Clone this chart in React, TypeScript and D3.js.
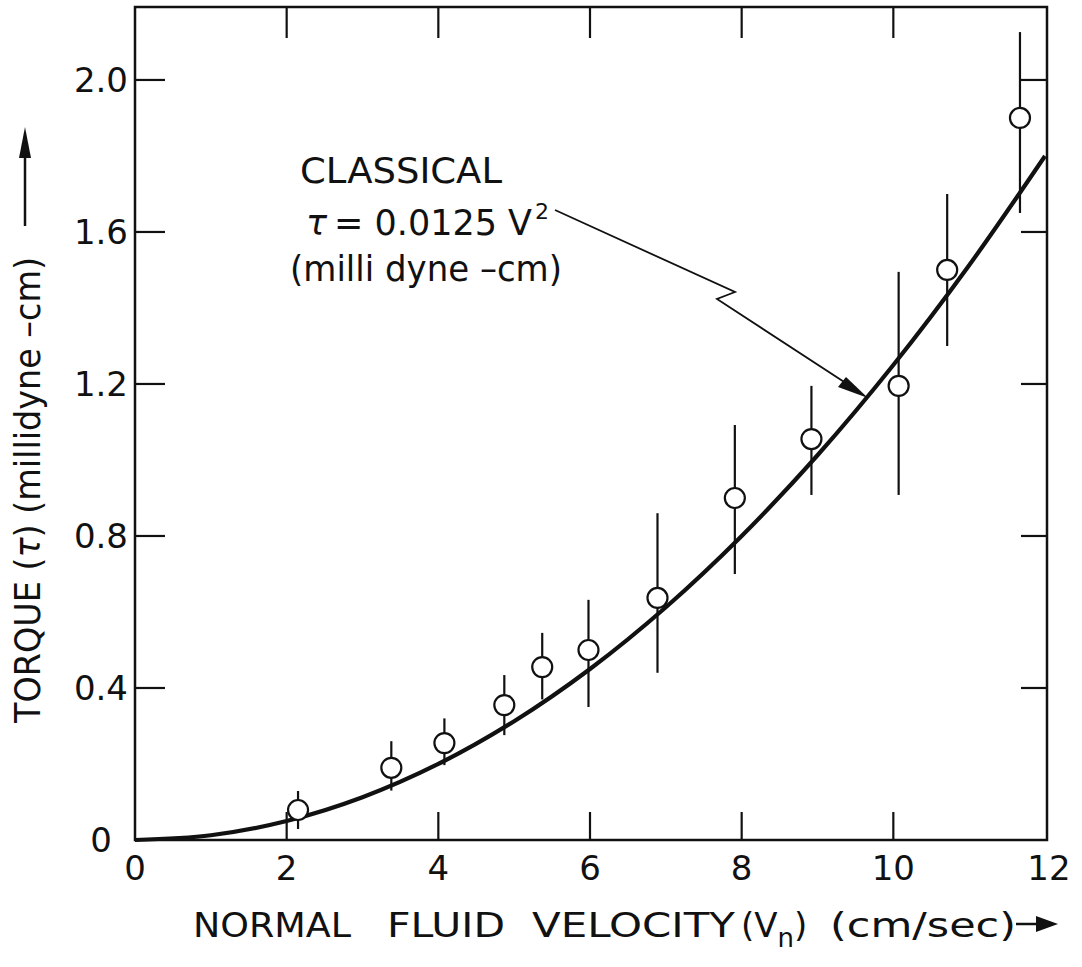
import React from "react";
import * as d3 from "d3";

// Measured data points (normal fluid velocity, torque) with error bar ends
const velocity = [2.15, 3.38, 4.08, 4.87, 5.37, 5.98, 6.89, 7.91, 8.92, 10.07, 10.71, 11.67];
const torque = [0.079, 0.19, 0.255, 0.355, 0.455, 0.5, 0.637, 0.9, 1.055, 1.195, 1.5, 1.9];
const errHigh = [0.129, 0.26, 0.32, 0.434, 0.545, 0.632, 0.86, 1.092, 1.195, 1.495, 1.7, 2.126];
const errLow = [0.029, 0.13, 0.197, 0.276, 0.37, 0.35, 0.44, 0.7, 0.908, 0.908, 1.3, 1.65];

// Classical curve tau = 0.0125 V^2, read at integer velocities
const curveV = [0, 1, 2, 3, 4, 5, 6, 7, 8, 9, 10, 11, 12];
const curveT = [0, 0.0125, 0.05, 0.1125, 0.2, 0.3125, 0.45, 0.6125, 0.8, 1.0125, 1.25, 1.5125, 1.8];

const xTicks = [0, 2, 4, 6, 8, 10, 12];
const xTickLabels = ["0", "2", "4", "6", "8", "10", "12"];
const yTicks = [0, 0.4, 0.8, 1.2, 1.6, 2.0];
const yTickLabels = ["0", "0.4", "0.8", "1.2", "1.6", "2.0"];

const FONT = "'DejaVu Sans', sans-serif";

export default function App() {
  const left = 135, right = 1047, top = 7, bottom = 840;
  const x = d3.scaleLinear().domain([0, 12]).range([135, 1045]);
  const y = d3.scaleLinear().domain([0, 2.192]).range([bottom, top]);
  const tick = 28;

  const line = d3
    .line<number>()
    .x((_, i) => x(curveV[i]))
    .y((d) => y(d))
    .curve(d3.curveCatmullRom);

  return (
    <svg width={1082} height={967} style={{ display: "block", position: "absolute", left: 0, top: 0, background: "#fff" }}>
      <rect x={0} y={0} width={1082} height={967} fill="#fff" />
      {/* frame */}
      <rect x={left} y={top} width={right - left} height={bottom - top} fill="none" stroke="#111" strokeWidth={2.5} />
      {/* ticks */}
      {xTicks.slice(1, -1).map((t) => (
        <g key={"xt" + t}>
          <line x1={x(t)} x2={x(t)} y1={bottom} y2={bottom - tick} stroke="#111" strokeWidth={2.2} />
          <line x1={x(t)} x2={x(t)} y1={top} y2={top + tick + 3} stroke="#111" strokeWidth={2.2} />
        </g>
      ))}
      {yTicks.slice(1).map((t) => (
        <g key={"yt" + t}>
          <line x1={left} x2={left + tick + 2} y1={y(t)} y2={y(t)} stroke="#111" strokeWidth={2.2} />
          <line x1={right} x2={right - tick + 2} y1={y(t)} y2={y(t)} stroke="#111" strokeWidth={2.2} />
        </g>
      ))}
      {/* tick labels */}
      {xTicks.map((t, i) => (
        <text key={"xl" + t} x={x(t) + (t === 12 ? 4 : 0)} y={880} textAnchor="middle" fontFamily={FONT} fontSize={34} fill="#111">
          {xTickLabels[i]}
        </text>
      ))}
      {yTicks.map((t, i) => (
        <text
          key={"yl" + t}
          x={t === 0 ? 112 : 128}
          y={y(t) + 12}
          textAnchor="end"
          fontFamily={FONT}
          fontSize={34}
          fill="#111"
        >
          {yTickLabels[i]}
        </text>
      ))}

      {/* classical curve */}
      <path d={line(curveT) || ""} fill="none" stroke="#111" strokeWidth={4.2} />

      {/* error bars and points */}
      {velocity.map((v, i) => (
        <g key={"p" + i}>
          <line x1={x(v)} x2={x(v)} y1={y(errHigh[i])} y2={y(errLow[i])} stroke="#111" strokeWidth={2.2} />
          <circle cx={x(v)} cy={y(torque[i])} r={10} fill="#fff" stroke="#111" strokeWidth={2.2} />
        </g>
      ))}

      {/* annotation */}
      <text x={300} y={183} fontFamily={FONT} fontSize={36} fill="#111" textLength={202} lengthAdjust="spacingAndGlyphs">
        CLASSICAL
      </text>
      <text x={306} y={235} fontFamily={FONT} fontSize={35} fill="#111">
        <tspan fontStyle="italic">τ</tspan>
        <tspan dx={7}>= 0.0125 V</tspan>
        <tspan dx={3} dy={-16} fontSize={22}>2</tspan>
      </text>
      <text x={290} y={281} fontFamily={FONT} fontSize={36} fill="#111" textLength={272} lengthAdjust="spacingAndGlyphs">
        (milli dyne –cm)
      </text>
      <polyline
        points="555,210 735,292 717,299 858,391"
        fill="none"
        stroke="#111"
        strokeWidth={1.8}
      />
      <path d="M 868 398 L 838 387 L 846 377 Z" fill="#111" />

      {/* x axis title */}
      <g fontFamily={FONT} fontSize={34} fill="#111">
        <text x={193} y={937} textLength={158} lengthAdjust="spacingAndGlyphs">NORMAL</text>
        <text x={387} y={937} textLength={118} lengthAdjust="spacingAndGlyphs">FLUID</text>
        <text x={532} y={937} textLength={203} lengthAdjust="spacingAndGlyphs">VELOCITY</text>
        <text x={741} y={937}>
          (V<tspan dy={10} fontSize={26}>n</tspan>
          <tspan dy={-10}>)</tspan>
        </text>
        <text x={830} y={937} textLength={186} lengthAdjust="spacingAndGlyphs">(cm/sec)</text>
      </g>
      <line x1={1016} x2={1042} y1={924} y2={924} stroke="#111" strokeWidth={2.5} />
      <path d="M 1058 924 L 1036 916 L 1036 932 Z" fill="#111" />

      {/* y axis title */}
      <text
        transform="translate(40,723) rotate(-90)"
        fontFamily={FONT}
        fontSize={36}
        fill="#111"
        textLength={466}
        lengthAdjust="spacingAndGlyphs"
      >
        TORQUE (<tspan fontStyle="italic">τ</tspan>) (millidyne –cm)
      </text>
      <line x1={25} x2={25} y1={226} y2={150} stroke="#111" strokeWidth={2.5} />
      <path d="M 25 127 L 19 158 L 31 158 Z" fill="#111" />
    </svg>
  );
}
